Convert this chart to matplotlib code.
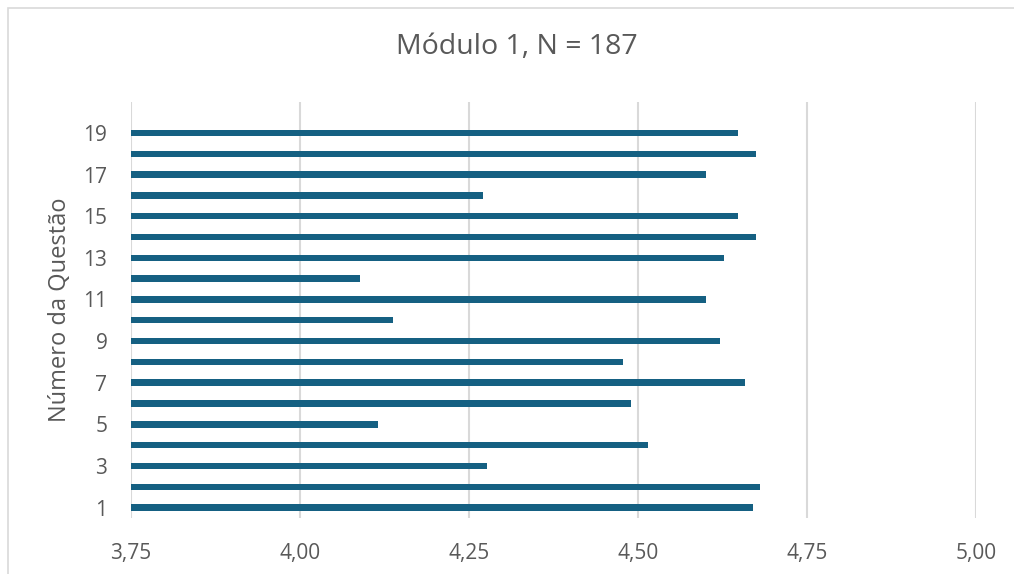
import matplotlib.pyplot as plt
from matplotlib.ticker import FuncFormatter
from matplotlib.patches import Rectangle

# mean score per question
questions = list(range(1, 20))
scores = [4.670, 4.680, 4.277, 4.515, 4.115, 4.489, 4.659, 4.478, 4.622, 4.138,
          4.601, 4.089, 4.627, 4.675, 4.648, 4.271, 4.601, 4.675, 4.648]
x_ticks = [3.75, 4.00, 4.25, 4.50, 4.75, 5.00]
y_ticks = list(range(1, 20, 2))

TEXT = "#595959"
GRID = "#d9d9d9"
BAR = "#156082"

plt.rcParams['font.family'] = ['Open Sans', 'DejaVu Sans']

fig = plt.figure(figsize=(10.14, 5.74), dpi=100)
ax = fig.add_axes([0.1292, 0.0976, 0.8333, 0.7252])

# chart border (only left/top visible in the reference)
fig.patches.append(Rectangle((8 / 1014, -0.1), 1.2, 1.1 - 8 / 574, transform=fig.transFigure,
                             fill=False, edgecolor=GRID, linewidth=1.2))

ax.barh(questions, scores, height=0.31, color=BAR, zorder=3)

ax.set_xlim(3.75, 5.0)
ax.set_ylim(0.5, 20.5)
ax.set_xticks(x_ticks)
ax.set_yticks(y_ticks)
ax.xaxis.set_major_formatter(FuncFormatter(lambda v, p: f"{v:.2f}".replace(".", ",")))
ax.grid(axis="x", color=GRID, linewidth=1.5, zorder=0)
ax.tick_params(length=0, labelsize=15, labelcolor=TEXT)
ax.tick_params(axis="x", pad=18)
ax.tick_params(axis="y", pad=17)
for s in ax.spines.values():
    s.set_visible(False)

fig.text(60 / 1014, 1 - 310 / 574, "Número da Questão", rotation=90, ha="center", va="center",
         fontsize=17, color=TEXT)
fig.text(517 / 1014, 1 - 47 / 574, "Módulo 1, N = 187", ha="center", va="center",
         fontsize=20.5, color=TEXT)

fig.savefig("out.png", dpi=100)
